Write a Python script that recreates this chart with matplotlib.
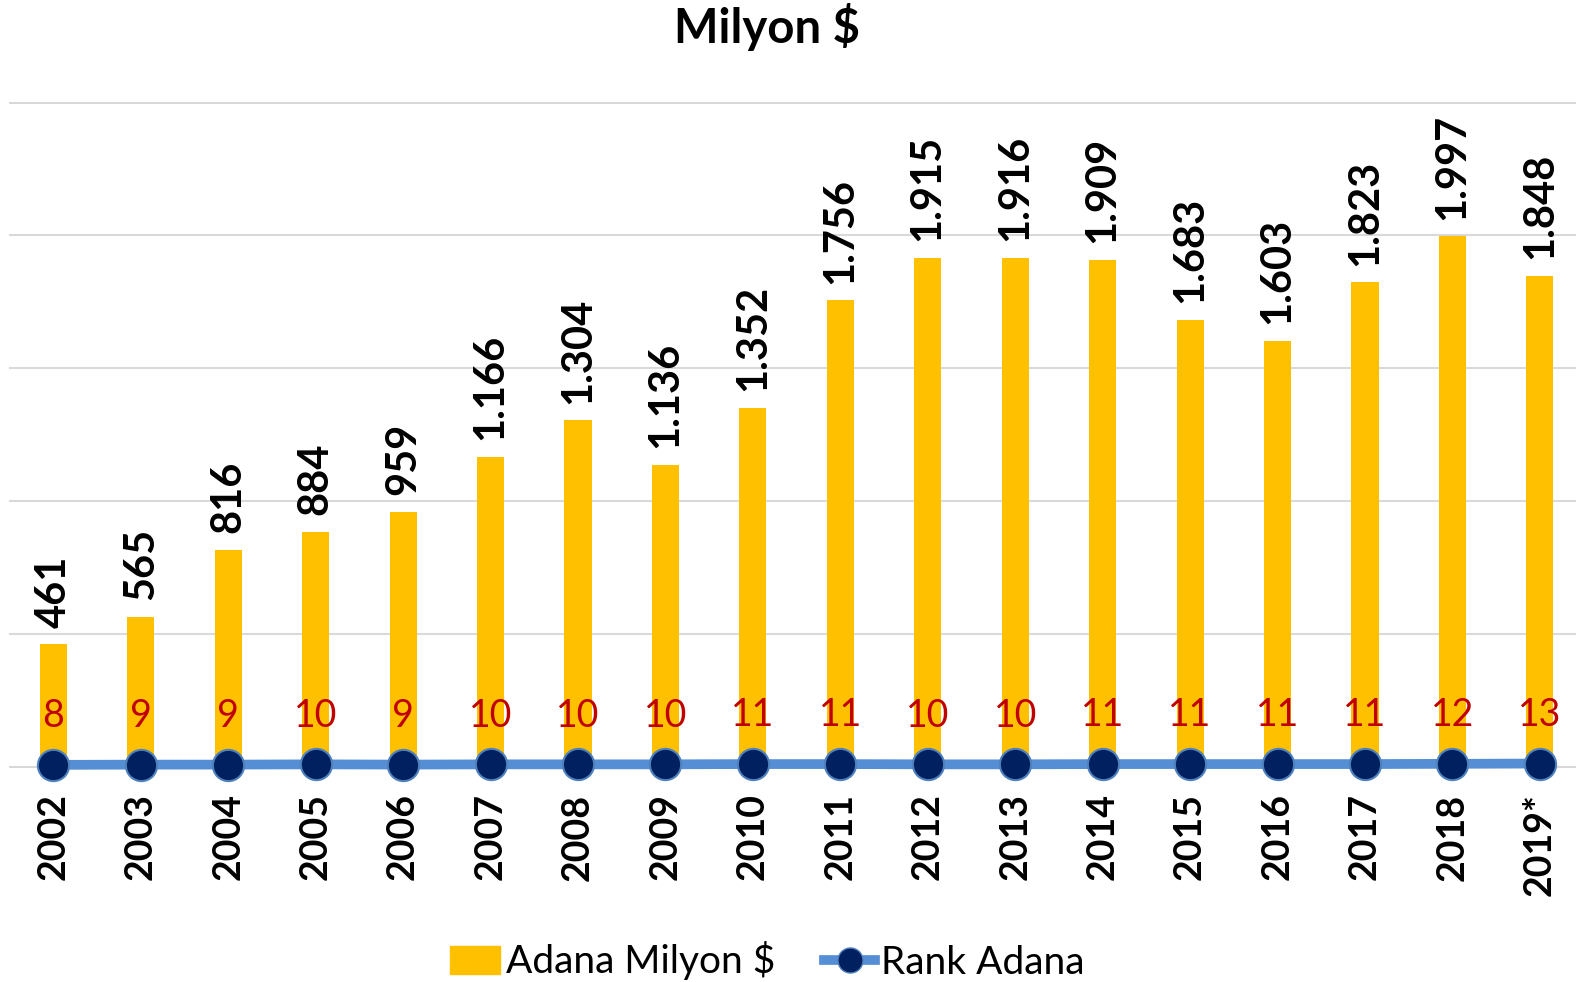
import matplotlib
matplotlib.use("Agg")
import matplotlib.pyplot as plt
from matplotlib.lines import Line2D
from matplotlib.patches import Patch

plt.rcParams['font.family'] = ['Lato', 'DejaVu Sans']

years = ["2002", "2003", "2004", "2005", "2006", "2007", "2008", "2009", "2010",
         "2011", "2012", "2013", "2014", "2015", "2016", "2017", "2018", "2019*"]
values = [461, 565, 816, 884, 959, 1166, 1304, 1136, 1352,
          1756, 1915, 1916, 1909, 1683, 1603, 1823, 1997, 1848]
ranks = [8, 9, 9, 10, 9, 10, 10, 10, 11, 11, 10, 10, 11, 11, 11, 11, 12, 13]
gridvals = [0, 500, 1000, 1500, 2000, 2500]

W, H = 1576, 982
fig = plt.figure(figsize=(W / 100, H / 100), dpi=100)
ax = fig.add_axes([9.6 / W, (H - 767) / H, 1574 / W, (767 - 102.5) / H])

x = list(range(len(years)))
ax.bar(x, values, width=0.31, color='#FFC000', zorder=2)
ax.plot(x, ranks, color='#558ED5', lw=7, marker='o', ms=22.5,
        mfc='#002060', mec='#4F81BD', mew=1.5, zorder=4, clip_on=False)

for xi, v in zip(x, values):
    s = f"{v:,}".replace(",", ".")
    ax.annotate(s, (xi, v), xytext=(0, 12), textcoords='offset points',
                rotation=90, ha='center', va='bottom', fontsize=30,
                fontweight='bold', color='black', zorder=5)

for xi, r in zip(x, ranks):
    ax.annotate(str(r), (xi, r), xytext=(0, 35), textcoords='offset points',
                ha='center', va='center', fontsize=27, color='#C00000', zorder=5)

ax.set_xlim(-0.5, len(years) - 0.5)
ax.set_ylim(0, 2500)
for g in gridvals:
    ax.axhline(g, color='#D9D9D9', lw=1.5, zorder=1, clip_on=False)
for sp in ax.spines.values():
    sp.set_visible(False)
ax.set_yticks([])
ax.set_xticks(x)
ax.set_xticklabels(years, rotation=90, fontsize=27, fontweight='bold', va='top')
ax.tick_params(axis='x', length=0, pad=19)

fig.text(767 / W, 1 - 27 / H, "Milyon $", ha='center', va='center',
         fontsize=34, fontweight='bold')

handles = [Patch(color='#FFC000', label='Adana Milyon $'),
           Line2D([0], [0], color='#558ED5', lw=7, marker='o', ms=18,
                  mfc='#002060', mec='#4F81BD', label='Rank Adana')]
fig.legend(handles=handles, loc='center', bbox_to_anchor=(767 / W, 21 / H), ncol=2,
           frameon=False, fontsize=28, handlelength=1.3, handleheight=0.7,
           handletextpad=0.15, columnspacing=1.25)

fig.savefig("out.png", dpi=100)
